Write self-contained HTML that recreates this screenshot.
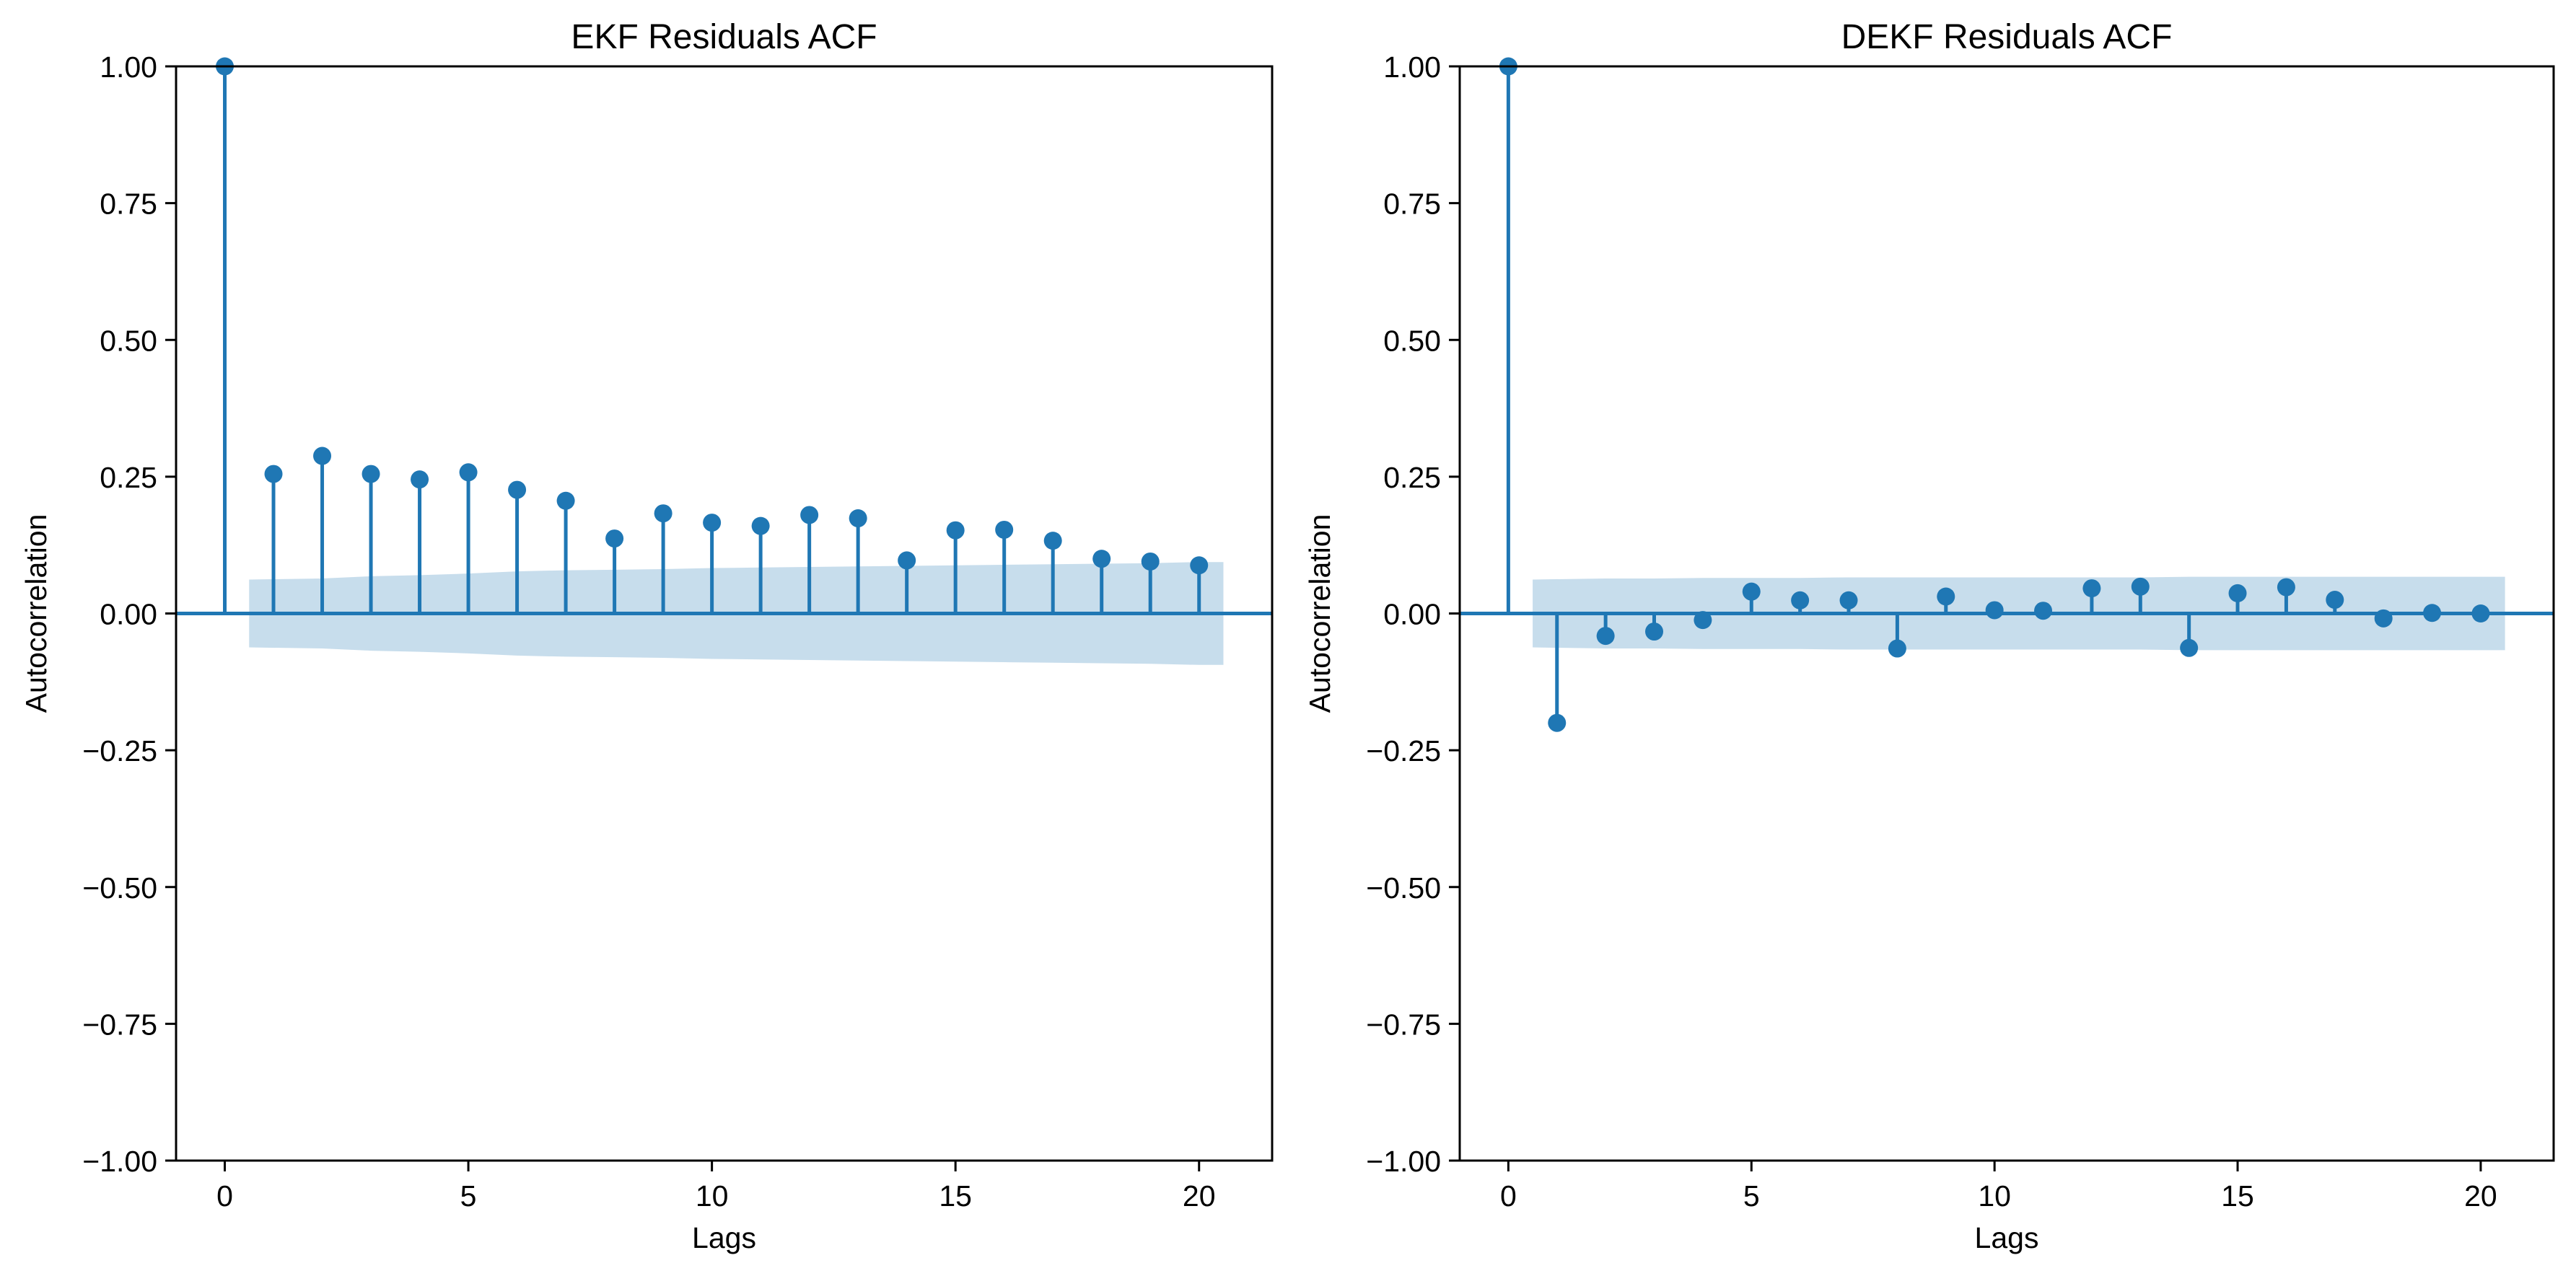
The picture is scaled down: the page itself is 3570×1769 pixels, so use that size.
<!DOCTYPE html>
<html><head><meta charset="utf-8"><style>
html,body{margin:0;padding:0;background:#fff;}
svg{display:block;font-family:"Liberation Sans","DejaVu Sans",sans-serif;}
</style></head><body>
<svg id="fig" width="3570" height="1769" viewBox="0 0 3570 1769" xmlns="http://www.w3.org/2000/svg">
<rect width="3570" height="1769" fill="#fff"/>
</svg>
<script>
const lags = [0,1,2,3,4,5,6,7,8,9,10,11,12,13,14,15,16,17,18,19,20];
const ekfAcf = [1,0.255,0.288,0.255,0.245,0.258,0.226,0.206,0.137,0.183,0.166,0.160,0.180,0.174,0.097,0.152,0.153,0.133,0.100,0.095,0.088];
const ekfConf = [0.062,0.062,0.064,0.068,0.070,0.073,0.077,0.079,0.080,0.081,0.083,0.084,0.085,0.086,0.087,0.088,0.089,0.090,0.091,0.092,0.094];
const dekfAcf = [1,-0.200,-0.041,-0.033,-0.012,0.040,0.024,0.024,-0.064,0.031,0.006,0.005,0.046,0.049,-0.063,0.037,0.048,0.025,-0.009,0.001,0.000];
const dekfConf = [0.062,0.062,0.064,0.064,0.065,0.065,0.065,0.066,0.066,0.066,0.066,0.066,0.066,0.066,0.067,0.067,0.067,0.067,0.067,0.067,0.067];
const yTicks = [-1,-0.75,-0.5,-0.25,0,0.25,0.5,0.75,1];
const yTickLabels = ["\u22121.00","\u22120.75","\u22120.50","\u22120.25","0.00","0.25","0.50","0.75","1.00"];
const xTicks = [0,5,10,15,20];
const xTickLabels = ["0","5","10","15","20"];

const NS = "http://www.w3.org/2000/svg";
const svg = document.getElementById('fig');
const C = "#1f77b4";
function mk(tag, attrs, parent){
  const e = document.createElementNS(NS, tag);
  for (const k in attrs) e.setAttribute(k, attrs[k]);
  parent.appendChild(e);
  return e;
}

function panel(left, right, title, acf, conf, key){
  const top = 92, bottom = 1609;
  const xmin = -1, xmax = 21.5;
  const X = v => left + (v - xmin) / (xmax - xmin) * (right - left);
  const Y = v => top + (1 - v) / 2 * (bottom - top);
  const g = mk('g', {}, svg);
  
  

  // confidence band
  let up = [], lo = [];
  const n = lags.length;
  for (let i = 1; i < n; i++){
    const xl = (i === 1) ? lags[i] - 0.5 : lags[i];
    up.push(X(xl) + ',' + Y(conf[i]));
    lo.push(X(xl) + ',' + Y(-conf[i]));
  }
  up.push(X(lags[n-1] + 0.5) + ',' + Y(conf[n-1]));
  lo.push(X(lags[n-1] + 0.5) + ',' + Y(-conf[n-1]));
  const band = mk('polygon', {points: up.concat(lo.reverse()).join(' '), fill: C, 'fill-opacity': 0.25, stroke: 'none'}, g);
  
  

  // zero line
  const zl = mk('line', {x1: left, x2: right, y1: Y(0), y2: Y(0), stroke: C, 'stroke-width': 5}, g);
  
  

  // stems and markers
  for (let i = 0; i < n; i++){
    const s = mk('line', {x1: X(lags[i]), x2: X(lags[i]), y1: Y(0), y2: Y(acf[i]), stroke: C, 'stroke-width': 5}, g);
    
    
    const m = mk('circle', {cx: X(lags[i]), cy: Y(acf[i]), r: 12.5, fill: C}, g);
    
    
  }

  // spines
  const sp = mk('rect', {x: left, y: top, width: right - left, height: bottom - top, fill: 'none', stroke: '#000', 'stroke-width': 3}, g);
  
  

  // y ticks
  yTicks.forEach((t, i) => {
    mk('line', {x1: left - 15, x2: left, y1: Y(t), y2: Y(t), stroke: '#000', 'stroke-width': 3}, g);
    const tx = mk('text', {x: left - 26, y: Y(t) + 15, 'font-size': 41, 'text-anchor': 'end', fill: '#000'}, g);
    tx.textContent = yTickLabels[i];
    
    
  });
  // x ticks
  xTicks.forEach((t, i) => {
    mk('line', {x1: X(t), x2: X(t), y1: bottom, y2: bottom + 15, stroke: '#000', 'stroke-width': 3}, g);
    const tx = mk('text', {x: X(t), y: bottom + 63, 'font-size': 41, 'text-anchor': 'middle', fill: '#000'}, g);
    tx.textContent = xTickLabels[i];
    
    
  });

  const tt = mk('text', {x: (left + right) / 2, y: 67, 'font-size': 48, 'text-anchor': 'middle', fill: '#000'}, g);
  tt.textContent = title;
  
  

  const xl = mk('text', {x: (left + right) / 2, y: 1730, 'font-size': 41, 'text-anchor': 'middle', fill: '#000'}, g);
  xl.textContent = 'Lags';
  
  

  const yx = left - 180, yy = (top + bottom) / 2;
  const yl = mk('text', {x: yx, y: yy, 'font-size': 41, 'text-anchor': 'middle', fill: '#000', transform: 'rotate(-90 ' + yx + ' ' + yy + ')'}, g);
  yl.textContent = 'Autocorrelation';
  
  
}

panel(244, 1763, 'EKF Residuals ACF', ekfAcf, ekfConf, 'ekf');
panel(2023, 3539, 'DEKF Residuals ACF', dekfAcf, dekfConf, 'dekf');
</script>
</body></html>
